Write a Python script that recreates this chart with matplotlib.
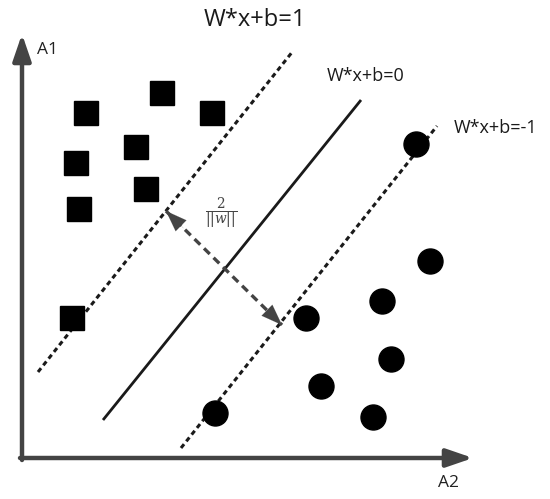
import matplotlib
matplotlib.use("Agg")
import matplotlib.pyplot as plt

plt.rcParams["mathtext.fontset"] = "dejavuserif"

# ---- data (diagram coordinates, pixel-like units, y grows downward) ----
square_x = [86, 162, 212, 76, 136, 146, 79, 72]
square_y = [113, 93, 113, 163, 147, 189, 209, 318]
circle_x = [416, 430, 382, 306, 391, 321, 373, 215]
circle_y = [144, 261, 301, 318, 359, 386, 417, 413]

# boundary lines: (x0, y0, x1, y1)
line_plus = [38, 372, 293, 51]     # W*x+b=1
line_zero = [103, 420, 361, 100]   # W*x+b=0
line_minus = [181, 448, 437, 126]  # W*x+b=-1
margin_arrow = [166, 211, 282, 325]

labels = ["W*x+b=1", "W*x+b=0", "W*x+b=-1"]
axis_labels = ["A1", "A2"]

FONT = "Open Sans"

fig = plt.figure(figsize=(5.5, 4.99), dpi=100)
ax = fig.add_axes([0, 0, 1, 1])
ax.set_xlim(0, 550)
ax.set_ylim(499, 0)
ax.axis("off")

axis_col = "#444444"
# axes arrows
ax.annotate("", xy=(22, 34), xytext=(22, 460),
            arrowprops=dict(arrowstyle="-|>,head_length=1.6,head_width=0.55",
                            lw=3.2, color=axis_col, shrinkA=0, shrinkB=0))
ax.annotate("", xy=(473, 458), xytext=(20, 458),
            arrowprops=dict(arrowstyle="-|>,head_length=1.6,head_width=0.55",
                            lw=3.2, color=axis_col, shrinkA=0, shrinkB=0))
ax.text(37, 50, axis_labels[0], fontsize=12.5, family=FONT, color="#222222",
        ha="left", va="center")
ax.text(448, 483, axis_labels[1], fontsize=12.5, family=FONT, color="#222222",
        ha="center", va="center")

line_col = "#1a1a1a"
ax.plot([line_plus[0], line_plus[2]], [line_plus[1], line_plus[3]],
        color=line_col, lw=2.2, linestyle=(0, (1.6, 1.2)))
ax.plot([line_zero[0], line_zero[2]], [line_zero[1], line_zero[3]],
        color=line_col, lw=2.0, solid_capstyle="butt")
ax.plot([line_minus[0], line_minus[2]], [line_minus[1], line_minus[3]],
        color=line_col, lw=2.2, linestyle=(0, (1.6, 1.2)))

# margin double arrow: dashed shaft + solid heads
mx0, my0, mx1, my1 = margin_arrow
arr_col = "#444444"
ax.plot([mx0, mx1], [my0, my1], color=arr_col, lw=2.4,
        linestyle=(0, (2.4, 1.6)))
dx, dy = (mx1 - mx0) * 0.15, (my1 - my0) * 0.15
for tip, tail in [((mx0, my0), (mx0 + dx, my0 + dy)),
                  ((mx1, my1), (mx1 - dx, my1 - dy))]:
    ax.annotate("", xy=tip, xytext=tail,
                arrowprops=dict(arrowstyle="-|>,head_length=1.5,head_width=0.55",
                                lw=0.1, color=arr_col, shrinkA=0, shrinkB=0))
ax.text(221, 214, r"$\frac{2}{||w||}$", fontsize=14, color="#444444",
        ha="center", va="center")

# points
ax.plot(square_x, square_y, linestyle="none", marker="s", markersize=17,
        color="black")
ax.plot(circle_x, circle_y, linestyle="none", marker="o", markersize=18,
        color="black")

# line labels
ax.text(255, 20, labels[0], fontsize=17, family=FONT, color="#1a1a1a",
        ha="center", va="center")
ax.text(366, 76, labels[1], fontsize=13, family=FONT, color="#1a1a1a",
        ha="center", va="center")
ax.text(496, 128, labels[2], fontsize=13, family=FONT, color="#1a1a1a",
        ha="center", va="center")

fig.savefig("out.png", dpi=100)
